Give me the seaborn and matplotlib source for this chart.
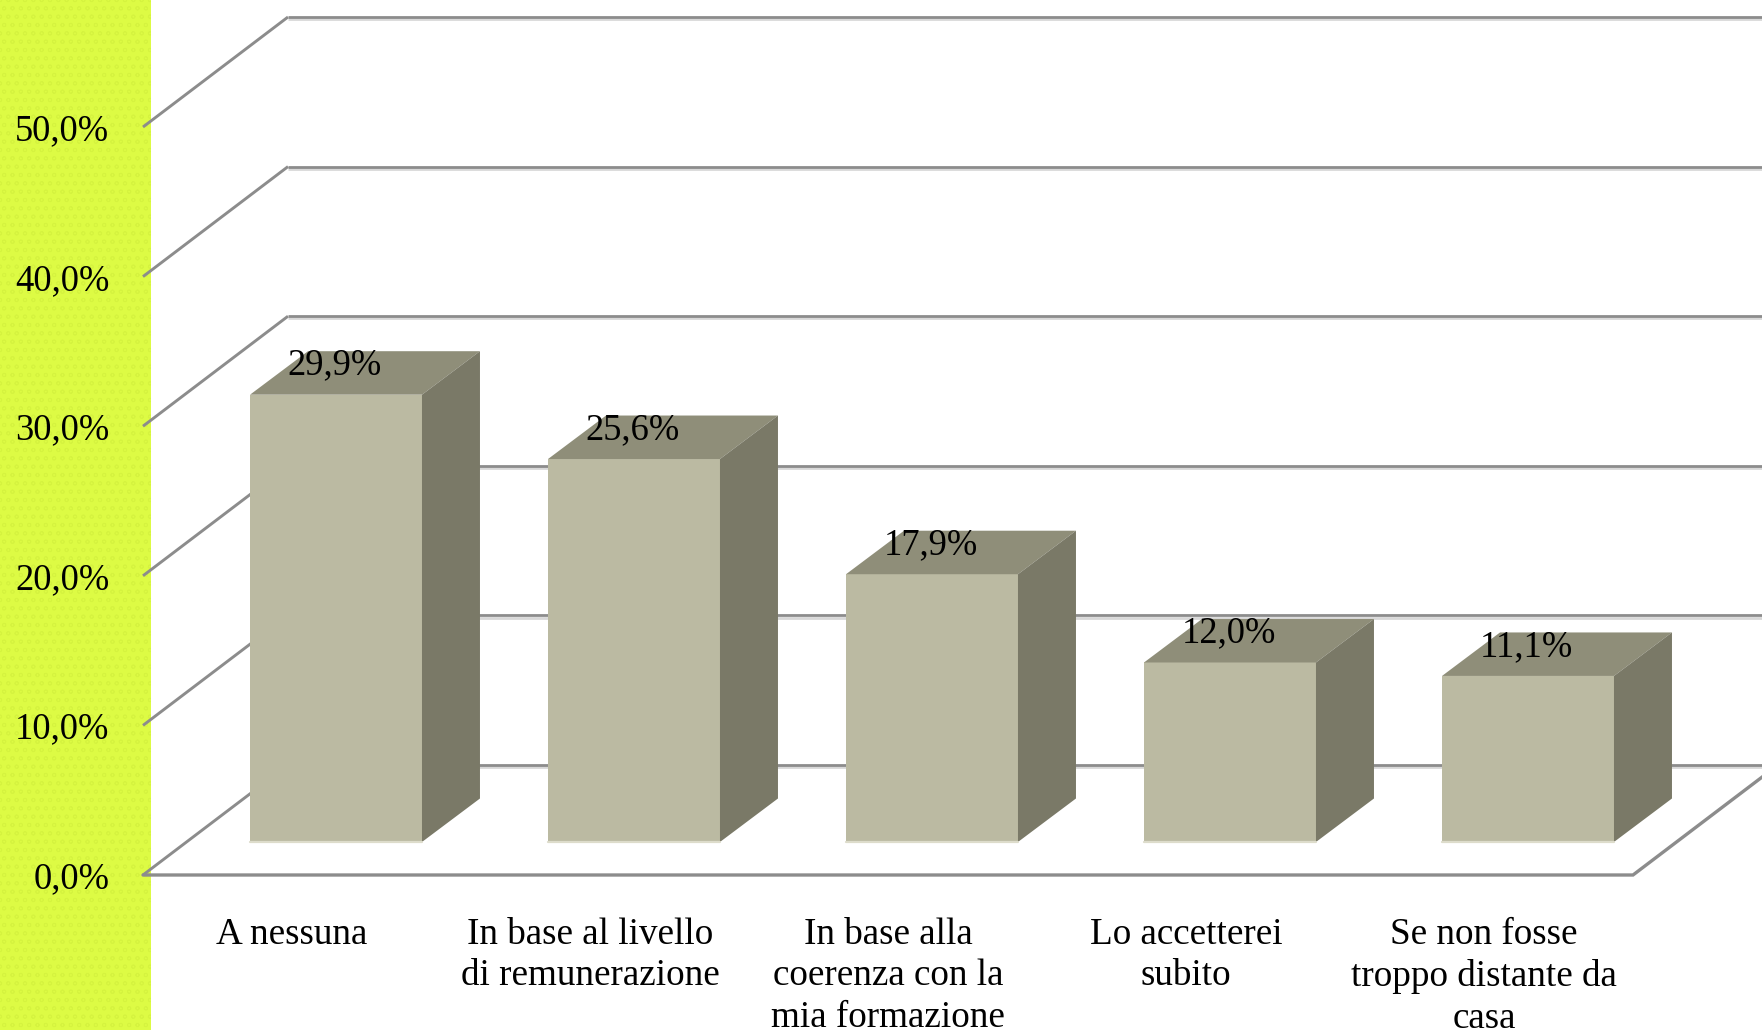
import matplotlib
matplotlib.use('Agg')
import matplotlib.pyplot as plt
import matplotlib.patheffects as pe
from matplotlib.patches import Polygon, Rectangle
import seaborn as sns

categories = ['A nessuna', 'In base al livello\ndi remunerazione',
              'In base alla\ncoerenza con la\nmia formazione',
              'Lo accetterei\nsubito', 'Se non fosse\ntroppo distante da\ncasa']
values = [29.9, 25.6, 17.9, 12.0, 11.1]
value_labels = ['29,9%', '25,6%', '17,9%', '12,0%', '11,1%']
y_ticks = [0, 10, 20, 30, 40, 50]
y_tick_labels = ['0,0%', '10,0%', '20,0%', '30,0%', '40,0%', '50,0%']

W, H = 1762, 1030
FRONT, TOP, SIDE = '#bbbaa2', '#8f8e79', '#7a7967'
GRID = '#8c8c8c'

sns.set_theme(style='white')
plt.rcParams['font.family'] = ['Liberation Serif', 'DejaVu Serif']
plt.rcParams['hatch.linewidth'] = 0.6

fig = plt.figure(figsize=(W / 100, H / 100), dpi=100, facecolor='white')
# green band down the left side, faintly mottled
fig.add_artist(Rectangle((0, 0), 151 / W, 1, transform=fig.transFigure, facecolor='#ddfb44',
                         edgecolor='#d5f33f', hatch='oo', linewidth=0, zorder=-1))


def px_axes(left, bottom_y, width, height):
    return fig.add_axes([left / W, (H - bottom_y) / H, width / W, height / H])


# front edge of the floor holds the ticks, the bars stand further back
ax = px_axes(143, 875, 1490, 748)
ax.patch.set_alpha(0)
ax.set_xlim(-0.5, 4.5)
ax.set_ylim(0, 50)

px_x = 298.0
px_y = 14.96
wall_dx, wall_dy = 145 / px_x, 110 / px_y

for v in y_ticks:
    ax.plot([-0.5, -0.5 + wall_dx], [v, v + wall_dy], color=GRID, lw=2.1,
            clip_on=False, solid_capstyle='butt')
    ax.plot([-0.5 + wall_dx, 4.5 + 2 * wall_dx], [v + wall_dy, v + wall_dy],
            color=GRID, lw=2.0, clip_on=False, solid_capstyle='butt',
            path_effects=[pe.SimpleLineShadow(offset=(0, -1.6), shadow_color='#d8d8d8', alpha=1),
                          pe.Normal()])
# floor outline
ax.plot([-0.5, 4.5, 4.5 + 2 * wall_dx], [0, 0, 2 * wall_dy], color=GRID, lw=2.4,
        clip_on=False, solid_joinstyle='miter')

ax.set_xticks(range(len(categories)))
ax.set_xticklabels(categories, fontsize=26.7, linespacing=1.27, color='black')
ax.set_yticks(y_ticks)
ax.set_yticklabels(y_tick_labels, fontsize=26.3, color='black')
ax.tick_params(axis='y', length=0, pad=24.2)
ax.tick_params(axis='x', length=0, pad=30.3)
sns.despine(ax=ax, left=True, bottom=True)

ax_bar = px_axes(143 + 44, 842, 1490, 748)
ax_bar.patch.set_alpha(0)
sns.barplot(x=list(range(len(values))), y=values, color=FRONT, saturation=1,
            width=0.577, ax=ax_bar, zorder=3, linewidth=0)
ax_bar.set_xlim(-0.5, 4.5)
ax_bar.set_ylim(0, 50)
ax_bar.axis('off')

bar_dx, bar_dy = 58 / px_x, 43.5 / px_y
for bar, lab in zip(ax_bar.patches, value_labels):
    x0, x1 = bar.get_x(), bar.get_x() + bar.get_width()
    h = bar.get_height()
    ax_bar.add_patch(Polygon([(x0, h), (x1, h), (x1 + bar_dx, h + bar_dy), (x0 + bar_dx, h + bar_dy)],
                             facecolor=TOP, edgecolor='none', zorder=3, clip_on=False))
    ax_bar.add_patch(Polygon([(x1, 0), (x1 + bar_dx, bar_dy), (x1 + bar_dx, h + bar_dy), (x1, h)],
                             facecolor=SIDE, edgecolor='none', zorder=3, clip_on=False))
    ax_bar.plot([x0, x1], [0, 0], color='#dddccb', lw=1.6, zorder=4, clip_on=False)
    ax_bar.annotate(lab, (x0 + (x1 - x0) / 2, h), xytext=(-1, 14.5), textcoords='offset points',
                    ha='center', va='baseline', fontsize=26.3, color='black', zorder=5)

fig.savefig('out.png', dpi=100)
